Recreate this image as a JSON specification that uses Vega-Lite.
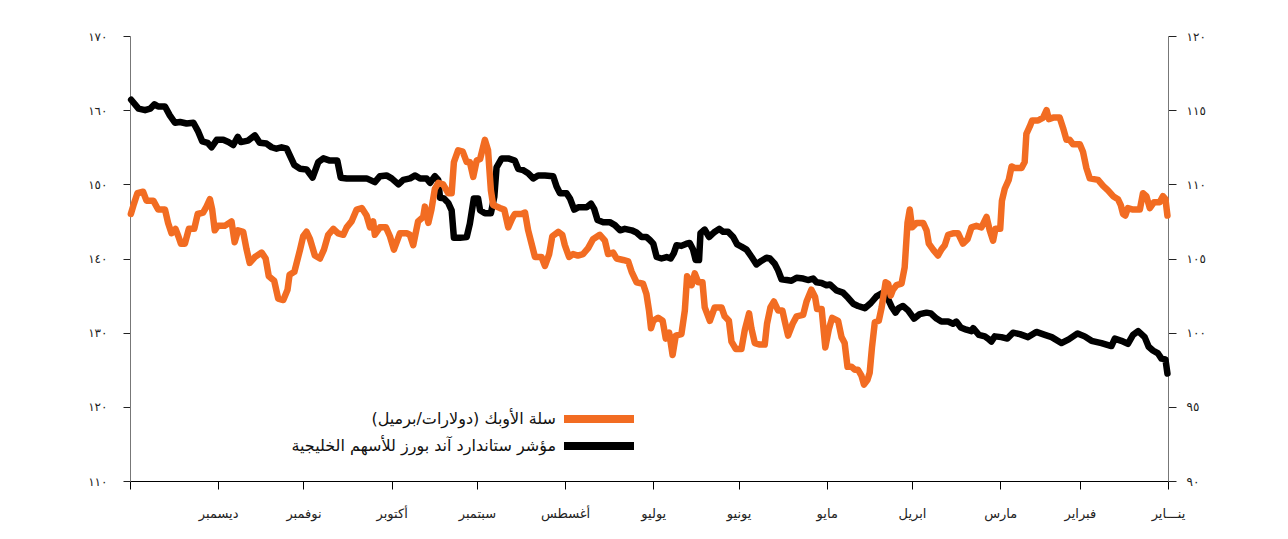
{
  "$schema": "https://vega.github.io/schema/vega-lite/v6.json",
  "autosize": {"type": "none"},
  "padding": {"left": 130, "top": 36, "right": 120, "bottom": 58},
  "width": 1038,
  "height": 445,
  "background": "white",
  "config": {
    "view": {"stroke": null},
    "font": "DejaVu Sans",
    "axis": {"grid": false, "labelFont": "DejaVu Sans", "labelColor": "#222"}
  },
  "datasets": {
    "gcc": [
      {"day":0.2,"value":124.5},{"day":0.9,"value":126.4},{"day":2.3,"value":126.5},{"day":3.5,"value":127.2},{"day":5.3,"value":127.6},{"day":6.8,"value":128.1},{"day":8.2,"value":129.4},{"day":10.5,"value":130.2},{"day":12.3,"value":129.7},{"day":14.1,"value":128.5},{"day":16.4,"value":128.9},{"day":18.7,"value":129.2},{"day":19.9,"value":128.2},{"day":23.4,"value":128.6},{"day":26.9,"value":128.9},{"day":29.3,"value":129.5},{"day":31.8,"value":129.9},{"day":34.9,"value":129.1},{"day":37.5,"value":128.6},{"day":40.9,"value":129.4},{"day":43.3,"value":129.7},{"day":46.3,"value":130.1},{"day":49.2,"value":129.4},{"day":52.1,"value":129.8},{"day":54.5,"value":130.0},{"day":56.5,"value":129.2},{"day":58.6,"value":129.4},{"day":60.9,"value":129.5},{"day":62.1,"value":128.8},{"day":63.3,"value":129.2},{"day":64.4,"value":129.5},{"day":66.5,"value":129.7},{"day":68.5,"value":130.6},{"day":69.1,"value":130.2},{"day":70.9,"value":130.4},{"day":72.9,"value":130.7},{"day":74.4,"value":131.5},{"day":75.6,"value":131.2},{"day":77.3,"value":131.5},{"day":79.7,"value":131.5},{"day":81.4,"value":131.9},{"day":83.4,"value":132.6},{"day":84.9,"value":132.7},{"day":87.3,"value":132.5},{"day":89.3,"value":131.9},{"day":91.4,"value":133.0},{"day":93.2,"value":133.6},{"day":94.7,"value":133.3},{"day":95.8,"value":132.7},{"day":97.2,"value":133.5},{"day":98.4,"value":134.5},{"day":100.2,"value":135.4},{"day":102.5,"value":134.9},{"day":104.5,"value":134.0},{"day":106.6,"value":133.3},{"day":109.0,"value":133.6},{"day":110.7,"value":133.9},{"day":112.5,"value":134.7},{"day":114.3,"value":135.4},{"day":116.6,"value":135.7},{"day":118.9,"value":136.5},{"day":120.1,"value":136.4},{"day":121.8,"value":136.7},{"day":123.6,"value":136.8},{"day":124.8,"value":137.3},{"day":126.6,"value":137.1},{"day":128.3,"value":137.3},{"day":130.6,"value":137.4},{"day":132.4,"value":137.0},{"day":134.1,"value":137.1},{"day":135.9,"value":137.2},{"day":137.1,"value":138.4},{"day":138.3,"value":139.3},{"day":140.0,"value":140.0},{"day":141.2,"value":140.1},{"day":142.9,"value":139.7},{"day":144.7,"value":139.2},{"day":146.4,"value":140.2},{"day":148.2,"value":141.2},{"day":150.0,"value":141.6},{"day":151.5,"value":141.9},{"day":152.9,"value":142.9},{"day":154.7,"value":143.6},{"day":156.4,"value":143.6},{"day":157.8,"value":144.0},{"day":159.7,"value":143.5},{"day":161.4,"value":142.9},{"day":162.9,"value":143.9},{"day":164.4,"value":143.4},{"day":164.9,"value":139.8},{"day":166.1,"value":139.8},{"day":167.0,"value":141.2},{"day":168.2,"value":142.1},{"day":169.3,"value":142.0},{"day":171.1,"value":141.7},{"day":172.8,"value":141.8},{"day":173.8,"value":140.7},{"day":174.9,"value":140.0},{"day":176.3,"value":140.2},{"day":178.1,"value":140.0},{"day":179.8,"value":140.2},{"day":181.0,"value":142.0},{"day":182.2,"value":142.5},{"day":183.4,"value":142.9},{"day":185.1,"value":142.9},{"day":186.9,"value":143.5},{"day":188.6,"value":143.8},{"day":191.0,"value":144.0},{"day":192.7,"value":143.8},{"day":194.5,"value":144.5},{"day":196.3,"value":144.9},{"day":198.6,"value":144.9},{"day":200.6,"value":145.2},{"day":201.8,"value":146.7},{"day":202.9,"value":147.4},{"day":204.4,"value":146.9},{"day":207.4,"value":146.9},{"day":208.8,"value":146.6},{"day":210.3,"value":148.1},{"day":211.5,"value":148.8},{"day":213.8,"value":148.8},{"day":215.0,"value":149.7},{"day":216.2,"value":151.1},{"day":219.1,"value":151.2},{"day":221.5,"value":151.2},{"day":223.2,"value":150.8},{"day":225.0,"value":151.5},{"day":226.7,"value":151.9},{"day":228.5,"value":152.1},{"day":229.7,"value":153.2},{"day":232.0,"value":153.5},{"day":234.3,"value":153.5},{"day":236.1,"value":152.3},{"day":236.9,"value":148.3},{"day":238.1,"value":146.1},{"day":240.2,"value":146.1},{"day":241.9,"value":146.5},{"day":242.6,"value":148.1},{"day":244.1,"value":148.1},{"day":245.5,"value":144.7},{"day":246.6,"value":142.9},{"day":249.0,"value":142.8},{"day":251.1,"value":142.8},{"day":251.9,"value":146.5},{"day":253.1,"value":147.5},{"day":254.6,"value":148.1},{"day":256.0,"value":148.2},{"day":256.6,"value":150.6},{"day":257.8,"value":151.1},{"day":259.5,"value":150.2},{"day":260.7,"value":150.8},{"day":263.0,"value":150.8},{"day":264.7,"value":151.2},{"day":266.5,"value":150.8},{"day":268.9,"value":150.6},{"day":270.6,"value":150.0},{"day":273.0,"value":150.8},{"day":274.8,"value":151.2},{"day":277.1,"value":151.1},{"day":278.9,"value":150.3},{"day":281.8,"value":150.8},{"day":288.8,"value":150.8},{"day":290.9,"value":150.9},{"day":292.1,"value":153.2},{"day":294.7,"value":153.2},{"day":297.0,"value":153.5},{"day":298.8,"value":153.0},{"day":300.8,"value":150.9},{"day":302.9,"value":152.0},{"day":305.2,"value":152.1},{"day":307.2,"value":152.6},{"day":308.8,"value":153.9},{"day":309.9,"value":154.8},{"day":311.7,"value":155.0},{"day":313.5,"value":154.8},{"day":315.2,"value":155.0},{"day":317.0,"value":155.5},{"day":319.4,"value":155.6},{"day":321.1,"value":156.6},{"day":323.5,"value":155.9},{"day":326.0,"value":155.7},{"day":327.1,"value":156.4},{"day":328.7,"value":155.3},{"day":330.4,"value":155.7},{"day":332.2,"value":156.0},{"day":334.5,"value":156.0},{"day":336.3,"value":155.0},{"day":337.7,"value":155.6},{"day":339.6,"value":155.8},{"day":341.0,"value":157.1},{"day":342.7,"value":158.3},{"day":345.1,"value":158.2},{"day":347.4,"value":158.4},{"day":349.2,"value":158.3},{"day":351.0,"value":159.3},{"day":352.7,"value":160.5},{"day":355.1,"value":160.5},{"day":356.4,"value":160.8},{"day":357.9,"value":160.2},{"day":359.7,"value":160.0},{"day":362.0,"value":160.2},{"day":364.6,"value":161.4}
    ],
    "opec": [
      {"day":0.2,"value":107.9},{"day":0.9,"value":109.0},{"day":1.8,"value":109.2},{"day":2.9,"value":108.8},{"day":4.9,"value":108.8},{"day":6.4,"value":108.4},{"day":7.6,"value":109.2},{"day":8.8,"value":109.4},{"day":9.9,"value":108.3},{"day":12.3,"value":108.3},{"day":14.1,"value":108.4},{"day":15.0,"value":107.9},{"day":15.8,"value":108.0},{"day":16.6,"value":108.6},{"day":17.6,"value":109.0},{"day":19.3,"value":109.2},{"day":21.1,"value":109.6},{"day":22.8,"value":109.9},{"day":24.6,"value":110.3},{"day":27.5,"value":110.4},{"day":28.7,"value":111.1},{"day":29.9,"value":112.2},{"day":31.0,"value":112.7},{"day":33.4,"value":112.7},{"day":34.6,"value":113.0},{"day":35.7,"value":113.0},{"day":36.9,"value":113.8},{"day":38.1,"value":114.5},{"day":40.4,"value":114.5},{"day":41.9,"value":114.4},{"day":42.7,"value":115.0},{"day":43.9,"value":114.5},{"day":45.7,"value":114.3},{"day":47.8,"value":114.3},{"day":48.6,"value":113.9},{"day":49.8,"value":113.4},{"day":50.4,"value":111.5},{"day":51.5,"value":111.1},{"day":53.9,"value":111.1},{"day":55.0,"value":111.2},{"day":56.0,"value":110.3},{"day":57.4,"value":109.7},{"day":58.4,"value":108.9},{"day":59.0,"value":107.0},{"day":60.7,"value":107.0},{"day":61.5,"value":106.2},{"day":62.7,"value":106.9},{"day":63.8,"value":107.8},{"day":65.6,"value":107.1},{"day":67.4,"value":107.2},{"day":69.1,"value":107.1},{"day":70.5,"value":106.3},{"day":72.1,"value":106.0},{"day":73.8,"value":106.7},{"day":75.6,"value":106.7},{"day":77.3,"value":106.6},{"day":78.5,"value":105.9},{"day":79.7,"value":105.6},{"day":80.9,"value":105.2},{"day":82.6,"value":105.6},{"day":84.1,"value":106.0},{"day":84.9,"value":106.9},{"day":86.1,"value":107.4},{"day":88.4,"value":107.4},{"day":90.0,"value":107.1},{"day":90.8,"value":108.3},{"day":91.6,"value":107.4},{"day":92.6,"value":104.4},{"day":93.7,"value":103.3},{"day":95.5,"value":103.2},{"day":96.7,"value":102.9},{"day":97.5,"value":102.5},{"day":98.4,"value":103.3},{"day":99.3,"value":103.4},{"day":100.7,"value":101.7},{"day":101.7,"value":100.8},{"day":103.1,"value":100.7},{"day":104.1,"value":99.0},{"day":104.9,"value":97.3},{"day":105.7,"value":96.8},{"day":106.9,"value":96.5},{"day":107.8,"value":97.1},{"day":109.0,"value":97.5},{"day":110.1,"value":97.5},{"day":111.3,"value":97.7},{"day":112.7,"value":97.7},{"day":113.7,"value":99.3},{"day":114.8,"value":99.7},{"day":116.0,"value":100.8},{"day":118.1,"value":101.0},{"day":119.3,"value":100.2},{"day":120.5,"value":99.0},{"day":121.8,"value":101.6},{"day":123.4,"value":101.6},{"day":124.1,"value":102.4},{"day":125.4,"value":102.9},{"day":127.1,"value":102.1},{"day":128.3,"value":101.2},{"day":130.6,"value":101.1},{"day":132.0,"value":100.6},{"day":133.6,"value":99.8},{"day":134.8,"value":100.8},{"day":135.6,"value":101.5},{"day":137.1,"value":101.5},{"day":138.6,"value":102.1},{"day":139.8,"value":101.7},{"day":141.0,"value":100.6},{"day":141.8,"value":99.2},{"day":143.5,"value":99.2},{"day":145.3,"value":99.3},{"day":146.5,"value":100.3},{"day":147.3,"value":101.3},{"day":148.8,"value":100.2},{"day":150.0,"value":98.9},{"day":152.0,"value":98.9},{"day":153.5,"value":99.4},{"day":154.4,"value":100.8},{"day":155.9,"value":101.1},{"day":157.0,"value":101.7},{"day":159.4,"value":101.7},{"day":161.1,"value":100.8},{"day":162.9,"value":101.7},{"day":163.7,"value":103.4},{"day":165.2,"value":103.4},{"day":166.4,"value":104.0},{"day":167.5,"value":103.2},{"day":169.1,"value":103.8},{"day":169.9,"value":101.5},{"day":171.1,"value":99.9},{"day":173.1,"value":99.8},{"day":174.2,"value":98.5},{"day":175.4,"value":100.0},{"day":176.6,"value":99.6},{"day":177.7,"value":100.8},{"day":179.3,"value":101.0},{"day":181.0,"value":100.8},{"day":181.8,"value":100.3},{"day":182.5,"value":101.5},{"day":183.4,"value":102.6},{"day":184.6,"value":103.3},{"day":186.9,"value":103.4},{"day":188.6,"value":104.1},{"day":189.8,"value":104.8},{"day":191.6,"value":104.9},{"day":193.9,"value":105.0},{"day":195.1,"value":105.4},{"day":196.9,"value":105.3},{"day":198.0,"value":106.2},{"day":199.8,"value":106.6},{"day":202.2,"value":106.3},{"day":203.9,"value":105.7},{"day":205.7,"value":105.3},{"day":207.5,"value":105.2},{"day":209.2,"value":105.3},{"day":210.6,"value":105.1},{"day":212.1,"value":105.9},{"day":213.0,"value":106.6},{"day":214.4,"value":106.8},{"day":216.5,"value":106.5},{"day":217.6,"value":105.3},{"day":219.1,"value":104.5},{"day":220.3,"value":105.1},{"day":222.6,"value":105.1},{"day":223.8,"value":106.0},{"day":225.0,"value":106.9},{"day":226.1,"value":108.1},{"day":227.3,"value":108.0},{"day":229.7,"value":108.0},{"day":230.6,"value":107.7},{"day":232.0,"value":107.1},{"day":233.4,"value":108.3},{"day":234.9,"value":108.4},{"day":237.3,"value":108.6},{"day":238.1,"value":109.6},{"day":239.1,"value":112.3},{"day":240.2,"value":113.0},{"day":241.5,"value":112.0},{"day":241.9,"value":111.7},{"day":243.1,"value":111.6},{"day":244.3,"value":110.5},{"day":245.5,"value":111.5},{"day":246.6,"value":111.5},{"day":248.0,"value":112.2},{"day":249.6,"value":112.3},{"day":251.1,"value":111.5},{"day":251.9,"value":109.4},{"day":253.1,"value":109.4},{"day":254.9,"value":110.0},{"day":256.6,"value":110.1},{"day":257.8,"value":109.7},{"day":259.0,"value":108.3},{"day":260.1,"value":107.4},{"day":261.3,"value":108.5},{"day":261.9,"value":107.8},{"day":263.7,"value":107.5},{"day":265.4,"value":105.9},{"day":266.6,"value":106.6},{"day":267.7,"value":106.7},{"day":270.1,"value":106.7},{"day":272.2,"value":105.6},{"day":273.6,"value":106.5},{"day":275.0,"value":107.1},{"day":277.1,"value":107.1},{"day":278.9,"value":106.6},{"day":279.5,"value":107.5},{"day":280.6,"value":107.1},{"day":281.8,"value":107.9},{"day":283.5,"value":108.4},{"day":285.3,"value":108.3},{"day":287.1,"value":107.5},{"day":288.8,"value":107.1},{"day":290.0,"value":106.6},{"day":291.8,"value":106.7},{"day":293.5,"value":107.0},{"day":295.3,"value":106.6},{"day":296.8,"value":105.6},{"day":298.2,"value":105.0},{"day":300.0,"value":105.2},{"day":301.7,"value":106.3},{"day":302.9,"value":106.8},{"day":304.1,"value":106.5},{"day":305.2,"value":105.6},{"day":307.2,"value":104.1},{"day":308.9,"value":103.9},{"day":309.6,"value":102.9},{"day":311.1,"value":102.2},{"day":312.9,"value":102.3},{"day":314.3,"value":103.5},{"day":316.2,"value":103.8},{"day":317.3,"value":105.0},{"day":318.7,"value":105.4},{"day":321.1,"value":105.1},{"day":322.9,"value":104.7},{"day":324.0,"value":105.6},{"day":325.2,"value":106.8},{"day":327.0,"value":106.9},{"day":328.2,"value":106.1},{"day":329.3,"value":107.5},{"day":331.7,"value":107.2},{"day":334.1,"value":107.2},{"day":335.2,"value":106.9},{"day":336.1,"value":108.3},{"day":336.9,"value":109.0},{"day":338.1,"value":108.5},{"day":339.3,"value":108.1},{"day":341.2,"value":108.0},{"day":342.4,"value":107.0},{"day":344.3,"value":107.0},{"day":345.7,"value":106.0},{"day":347.1,"value":106.0},{"day":348.0,"value":106.5},{"day":349.0,"value":107.0},{"day":350.4,"value":106.7},{"day":351.6,"value":107.4},{"day":352.7,"value":108.3},{"day":355.1,"value":108.3},{"day":356.8,"value":108.9},{"day":359.2,"value":108.9},{"day":360.4,"value":109.5},{"day":362.4,"value":109.4},{"day":363.6,"value":108.7},{"day":364.7,"value":108.0}
    ]
  },
  "encoding": {
    "x": {
      "field": "day",
      "type": "quantitative",
      "scale": {"domain": [0, 365], "reverse": true, "nice": false, "zero": false},
      "axis": {
        "title": null,
        "values": [0, 31, 59, 90, 120, 151, 181, 212, 243, 273, 304, 334, 365],
        "labelExpr": "['ينـــاير','فبراير','مارس','ابريل','مايو','يونيو','يوليو','أغسطس','سبتمبر','أكتوبر','نوفمبر','ديسمبر',''][indexof([0,31,59,90,120,151,181,212,243,273,304,334,365], datum.value)]",
        "domainColor": "#000",
        "tickColor": "#000",
        "tickSize": 8,
        "labelFontSize": 13,
        "labelPadding": 18,
        "labelFlush": false,
        "labelOverlap": false
      }
    }
  },
  "layer": [
    {
      "data": {"name": "gcc"},
      "mark": {"type": "line", "strokeWidth": 6.5, "strokeJoin": "round", "strokeCap": "round"},
      "encoding": {
        "y": {
          "field": "value",
          "type": "quantitative",
          "scale": {"domain": [110, 170], "nice": false, "zero": false},
          "axis": {
            "orient": "left",
            "title": null,
            "values": [110, 120, 130, 140, 150, 160, 170],
            "labelExpr": "['١١٠','١٢٠','١٣٠','١٤٠','١٥٠','١٦٠','١٧٠'][round((datum.value-110)/10)]",
            "domainColor": "#777",
            "tickColor": "#222",
            "tickSize": 7,
            "labelPadding": 16,
            "labelFontSize": 12
          }
        },
        "color": {
          "datum": "مؤشر ستاندارد آند بورز للأسهم الخليجية",
          "type": "nominal",
          "scale": {
            "domain": ["سلة الأوبك (دولارات/برميل)‏", "مؤشر ستاندارد آند بورز للأسهم الخليجية"],
            "range": ["#f26c22", "#000000"]
          },
          "legend": {
            "title": null,
            "orient": "none",
            "legendX": 458,
            "legendY": 372,
            "padding": 0,
            "symbolType": "M-5,0H5",
            "symbolSize": 196,
            "symbolStrokeWidth": 8,
            "rowPadding": -5,
            "labelAlign": "right",
            "labelBaseline": "middle",
            "labelOffset": -54,
            "labelLimit": 500,
            "labelFontSize": 16,
            "labelFont": "DejaVu Sans",
            "labelColor": "#111"
          }
        }
      }
    },
    {
      "data": {"name": "opec"},
      "mark": {"type": "line", "strokeWidth": 6.5, "strokeJoin": "round", "strokeCap": "round"},
      "encoding": {
        "y": {
          "field": "value",
          "type": "quantitative",
          "scale": {"domain": [90, 120], "nice": false, "zero": false},
          "axis": {
            "orient": "right",
            "title": null,
            "values": [90, 95, 100, 105, 110, 115, 120],
            "labelExpr": "['٩٠','٩٥','١٠٠','١٠٥','١١٠','١١٥','١٢٠'][round((datum.value-90)/5)]",
            "domainColor": "#777",
            "tickColor": "#222",
            "tickSize": 8,
            "labelPadding": 10,
            "labelFontSize": 12
          }
        },
        "color": {
          "datum": "سلة الأوبك (دولارات/برميل)‏",
          "type": "nominal"
        }
      }
    }
  ],
  "resolve": {"scale": {"y": "independent"}, "axis": {"y": "independent"}}
}
